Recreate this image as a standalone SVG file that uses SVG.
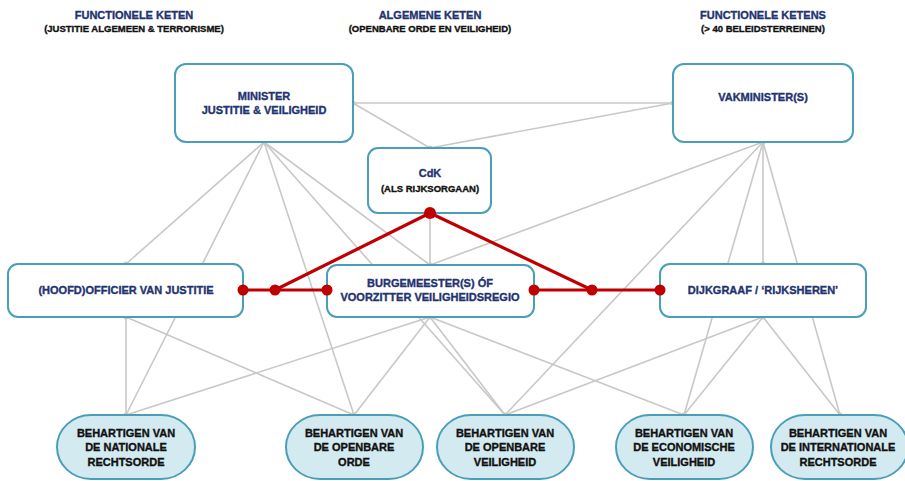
<svg xmlns="http://www.w3.org/2000/svg" width="905" height="481" viewBox="0 0 905 481">
<style>
.bg{fill:#ffffff}
.box{fill:#ffffff;stroke:#4a9fb8;stroke-width:2}
.goal{fill:#d3eaf0;stroke:#4a9fb8;stroke-width:2}
.t{font-family:"Liberation Sans",Arial,sans-serif;font-weight:bold;text-anchor:middle;stroke-width:0.35}
.nv{fill:#1f3470;stroke:#1f3470;font-size:11px}
.bk{fill:#111111;stroke:#111111;font-size:11px}
.sub{fill:#111111;stroke:#111111;font-size:9.5px}
.gl{stroke:#c8c8c8;stroke-width:1.6;fill:none}
.gd{fill:#c8c8c8}
.rl{stroke:#c00000;stroke-width:3.2;fill:none;stroke-linecap:round}
.rd{fill:#c00000}
</style>
<rect class="bg" x="0" y="0" width="905" height="481"/>

<g id="headers">
<text class="t nv" x="134" y="19">FUNCTIONELE KETEN</text>
<text class="t sub" x="134" y="32">(JUSTITIE ALGEMEEN &amp; TERRORISME)</text>
<text class="t nv" x="430" y="19">ALGEMENE KETEN</text>
<text class="t sub" x="430" y="32">(OPENBARE ORDE EN VEILIGHEID)</text>
<text class="t nv" x="763" y="19">FUNCTIONELE KETENS</text>
<text class="t sub" x="763" y="32">(&gt; 40 BELEIDSTERREINEN)</text>
</g>

<g id="connectors">
<line class="gl" x1="353" y1="103" x2="673" y2="103"/>
<line class="gl" x1="353" y1="103" x2="430" y2="148"/>
<line class="gl" x1="673" y1="103" x2="430" y2="148"/>
<line class="gl" x1="264" y1="142" x2="126" y2="264"/>
<line class="gl" x1="264" y1="142" x2="126" y2="415"/>
<line class="gl" x1="264" y1="142" x2="354" y2="415"/>
<line class="gl" x1="264" y1="142" x2="505" y2="415"/>
<line class="gl" x1="264" y1="142" x2="430" y2="265"/>
<line class="gl" x1="430" y1="213" x2="430" y2="265"/>
<line class="gl" x1="763" y1="142" x2="430" y2="265"/>
<line class="gl" x1="763" y1="142" x2="505" y2="415"/>
<line class="gl" x1="763" y1="142" x2="763" y2="264"/>
<line class="gl" x1="763" y1="142" x2="684" y2="415"/>
<line class="gl" x1="763" y1="142" x2="840" y2="415"/>
<line class="gl" x1="126" y1="317" x2="126" y2="415"/>
<line class="gl" x1="126" y1="317" x2="354" y2="415"/>
<line class="gl" x1="430" y1="317" x2="126" y2="415"/>
<line class="gl" x1="430" y1="317" x2="354" y2="415"/>
<line class="gl" x1="430" y1="317" x2="505" y2="415"/>
<line class="gl" x1="430" y1="317" x2="684" y2="415"/>
<line class="gl" x1="763" y1="317" x2="505" y2="415"/>
<line class="gl" x1="763" y1="317" x2="684" y2="415"/>
<line class="gl" x1="763" y1="317" x2="840" y2="415"/>
<circle class="gd" cx="353" cy="103" r="2.5"/>
<circle class="gd" cx="673" cy="103" r="2.5"/>
<circle class="gd" cx="430" cy="148" r="2.5"/>
<circle class="gd" cx="264" cy="142" r="2.5"/>
<circle class="gd" cx="763" cy="142" r="2.5"/>
<circle class="gd" cx="126" cy="264" r="2.5"/>
<circle class="gd" cx="430" cy="265" r="2.5"/>
<circle class="gd" cx="763" cy="264" r="2.5"/>
<circle class="gd" cx="126" cy="317" r="2.5"/>
<circle class="gd" cx="430" cy="317" r="2.5"/>
<circle class="gd" cx="763" cy="317" r="2.5"/>
<circle class="gd" cx="126" cy="415" r="2.5"/>
<circle class="gd" cx="354" cy="415" r="2.5"/>
<circle class="gd" cx="505" cy="415" r="2.5"/>
<circle class="gd" cx="684" cy="415" r="2.5"/>
<circle class="gd" cx="840" cy="415" r="2.5"/>
</g>

<g id="minister">
<rect class="box" x="175" y="64" width="178" height="78" rx="11"/>
<text class="t nv" x="264" y="100">MINISTER</text>
<text class="t nv" x="264" y="114">JUSTITIE &amp; VEILIGHEID</text>
</g>
<g id="cdk">
<rect class="box" x="368" y="148" width="123" height="65" rx="10"/>
<text class="t nv" x="430" y="177">CdK</text>
<text class="t sub" x="430" y="192">(ALS RIJKSORGAAN)</text>
</g>
<g id="vakminister">
<rect class="box" x="673" y="64" width="180" height="78" rx="11"/>
<text class="t nv" x="763" y="101">VAKMINISTER(S)</text>
</g>
<g id="officier">
<rect class="box" x="8" y="264" width="235" height="53" rx="10"/>
<text class="t nv" x="126" y="294">(HOOFD)OFFICIER VAN JUSTITIE</text>
</g>
<g id="burgemeester">
<rect class="box" x="327" y="265" width="207" height="52" rx="10"/>
<text class="t nv" x="430" y="287">BURGEMEESTER(S) ÓF</text>
<text class="t nv" x="430" y="301">VOORZITTER VEILIGHEIDSREGIO</text>
</g>
<g id="dijkgraaf">
<rect class="box" x="660" y="264" width="206" height="53" rx="10"/>
<text class="t nv" x="763" y="294">DIJKGRAAF / ‘RIJKSHEREN’</text>
</g>

<g id="nationale">
<rect class="goal" x="57" y="415" width="138" height="64" rx="34" ry="32"/>
<text class="t bk" x="126" y="437">BEHARTIGEN VAN</text>
<text class="t bk" x="126" y="451">DE NATIONALE</text>
<text class="t bk" x="126" y="466">RECHTSORDE</text>
</g>
<g id="openbare-orde">
<rect class="goal" x="286" y="415" width="137" height="64" rx="34" ry="32"/>
<text class="t bk" x="354" y="437">BEHARTIGEN VAN</text>
<text class="t bk" x="354" y="451">DE OPENBARE</text>
<text class="t bk" x="354" y="466">ORDE</text>
</g>
<g id="openbare-veiligheid">
<rect class="goal" x="437" y="415" width="137" height="64" rx="34" ry="32"/>
<text class="t bk" x="505" y="437">BEHARTIGEN VAN</text>
<text class="t bk" x="505" y="451">DE OPENBARE</text>
<text class="t bk" x="505" y="466">VEILIGHEID</text>
</g>
<g id="economische">
<rect class="goal" x="616" y="415" width="137" height="64" rx="34" ry="32"/>
<text class="t bk" x="684" y="437">BEHARTIGEN VAN</text>
<text class="t bk" x="684" y="451">DE ECONOMISCHE</text>
<text class="t bk" x="684" y="466">VEILIGHEID</text>
</g>
<g id="internationale">
<rect class="goal" x="771" y="415" width="137" height="64" rx="34" ry="32"/>
<text class="t bk" x="838" y="437">BEHARTIGEN VAN</text>
<text class="t bk" x="838" y="451">DE INTERNATIONALE</text>
<text class="t bk" x="838" y="466">RECHTSORDE</text>
</g>

<g id="red-connectors">
<line class="rl" x1="243" y1="290" x2="327" y2="290"/>
<line class="rl" x1="534" y1="290" x2="660" y2="290"/>
<line class="rl" x1="430" y1="213" x2="275" y2="290"/>
<line class="rl" x1="430" y1="213" x2="592" y2="290"/>
<circle class="rd" cx="243" cy="290" r="5.5"/>
<circle class="rd" cx="275" cy="290" r="5.5"/>
<circle class="rd" cx="327" cy="290" r="5.5"/>
<circle class="rd" cx="534" cy="290" r="5.5"/>
<circle class="rd" cx="592" cy="290" r="5.5"/>
<circle class="rd" cx="660" cy="290" r="5.5"/>
<circle class="rd" cx="430" cy="213" r="6"/>
</g>
</svg>
